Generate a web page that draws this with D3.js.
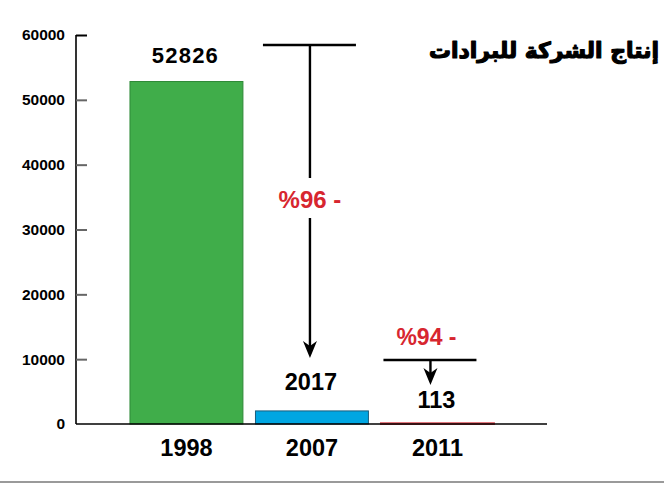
<!DOCTYPE html>
<html><head><meta charset="utf-8">
<script src="https://cdn.jsdelivr.net/npm/d3@7"></script>
<style>
html,body{margin:0;padding:0;background:#fff;}
svg{display:block;}
text{font-family:"Liberation Sans",Arial,sans-serif;font-weight:bold;}
</style></head>
<body>
<svg id="chart" width="671" height="486"></svg>
<script>
// ---- data ----
const years = ["1998", "2007", "2011"];
const production = [52826, 2017, 113];
const yTicks = [0, 10000, 20000, 30000, 40000, 50000, 60000];
const changeLabels = ["%96 -", "%94 -"];
const title = "إنتاج الشركة للبرادات";

// ---- drawing ----
const svg = d3.select("#chart");
const barColors = ["#40ad4a", "#00a6e2", "#d9474f"];
const barStroke = ["#2f8a38", "#1b5f7e", "#d9474f"];

const x = d3.scaleBand().domain(years).range([123.7, 500.2]).paddingInner(0.1).paddingOuter(0.05);
const y = d3.scaleLinear().domain([0, 60000]).range([424, 35]);

// bottom grey rule
svg.append("line").attr("x1", 0).attr("x2", 664).attr("y1", 482).attr("y2", 482)
  .attr("stroke", "#9a9a9a").attr("stroke-width", 2);

// bars
svg.selectAll("rect.bar").data(production).join("rect")
  .attr("class", "bar")
  .attr("x", (d, i) => x(years[i]))
  .attr("width", x.bandwidth())
  .attr("y", d => y(d))
  .attr("height", d => Math.max(0.5, y(0) - y(d)))
  .attr("fill", (d, i) => barColors[i])
  .attr("stroke", (d, i) => barStroke[i])
  .attr("stroke-width", (d, i) => i === 2 ? 2 : 1);

// y axis
const yAxis = d3.axisLeft(y).tickValues(yTicks).tickSize(-11).tickPadding(22).tickFormat(d3.format("d"));
const gy = svg.append("g").attr("transform", "translate(76,0)").call(yAxis);
gy.select(".domain").attr("stroke", "#000").attr("stroke-width", 1.6).attr("d", "M0," + y(60000) + "V" + y(0));
gy.selectAll(".tick line").attr("stroke", "#666").attr("stroke-width", 2)
  .filter(d => d === 0).remove();
gy.select(".tick:last-of-type line").attr("stroke", "#000");
gy.selectAll(".tick text").attr("font-size", 15.5).attr("fill", "#000").attr("x", -11)
  .style("font-family", '"Liberation Sans",Arial,sans-serif').style("font-weight", "bold");

// x axis
const xAxis = d3.axisBottom(x).tickSize(0).tickPadding(10);
const gx = svg.append("g").attr("transform", "translate(0," + y(0) + ")").call(xAxis);
gx.select(".domain").attr("stroke", "#000").attr("stroke-width", 1.6).attr("d", "M76,0H547");
gx.selectAll(".tick text").attr("font-size", 23.5).attr("fill", "#000").attr("dy", "0.95em")
  .style("font-family", '"Liberation Sans",Arial,sans-serif').style("font-weight", "bold");

// value labels
const labelGap = [19, 21, 15];
svg.selectAll("text.val").data(production).join("text")
  .attr("class", "val")
  .attr("x", (d, i) => x(years[i]) + x.bandwidth() / 2 - 1)
  .attr("y", (d, i) => y(d) - labelGap[i])
  .attr("text-anchor", "middle")
  .attr("font-size", (d, i) => i === 0 ? 22 : 23.5)
  .attr("letter-spacing", (d, i) => i === 0 ? 1.2 : 0)
  .attr("fill", "#000")
  .text(d => d);

function arrowHead(g, cx, tipY) {
  g.append("path")
    .attr("d", `M${cx - 7},${tipY - 17} L${cx},${tipY - 12} L${cx + 7},${tipY - 17} L${cx},${tipY} Z`)
    .attr("fill", "#000").attr("stroke", "none");
}

// annotation 1 (1998 -> 2007)
const c1 = x(years[1]) + x.bandwidth() / 2 - 2;
const a1 = svg.append("g").attr("stroke", "#000").attr("stroke-width", 2.4);
a1.append("line").attr("x1", c1 - 47).attr("x2", c1 + 46).attr("y1", 45).attr("y2", 45);
a1.append("line").attr("x1", c1).attr("x2", c1).attr("y1", 45).attr("y2", 178);
a1.append("line").attr("x1", c1).attr("x2", c1).attr("y1", 218).attr("y2", 348);
arrowHead(a1, c1, 358);
svg.append("text").attr("x", c1).attr("y", 208).attr("text-anchor", "middle")
  .attr("font-size", 24).attr("fill", "#d7262f").attr("direction", "ltr").text(changeLabels[0]);

// annotation 2 (2007 -> 2011)
const c2 = x(years[2]) + x.bandwidth() / 2 - 7;
const a2 = svg.append("g").attr("stroke", "#000").attr("stroke-width", 2.4);
a2.append("line").attr("x1", c2 - 47).attr("x2", c2 + 46).attr("y1", 360).attr("y2", 360);
a2.append("line").attr("x1", c2).attr("x2", c2).attr("y1", 360).attr("y2", 376);
arrowHead(a2, c2, 385);
svg.append("text").attr("x", c2 - 4).attr("y", 345).attr("text-anchor", "middle")
  .attr("font-size", 23).attr("fill", "#d7262f").attr("direction", "ltr").text(changeLabels[1]);

// title
const t = svg.append("text").attr("x", 659).attr("y", 58).attr("text-anchor", "end")
  .attr("fill", "#000").attr("font-size", 26)
  .attr("stroke", "#000").attr("stroke-width", 1.2).attr("stroke-linejoin", "round")
  .style("font-family", '"DejaVu Sans",sans-serif').style("font-weight", "bold")
  .text(title);
const w = t.node().getComputedTextLength();
if (w > 0) t.attr("font-size", 26 * 230 / w);
</script>
</body></html>
